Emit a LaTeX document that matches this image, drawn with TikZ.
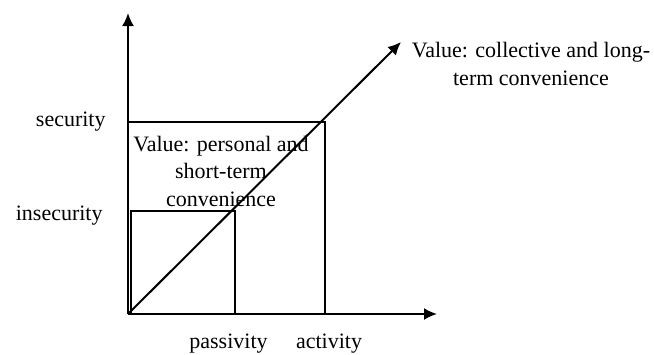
\documentclass[tikz,border=0pt]{standalone}
\usepackage{fontspec}
\setmainfont{Liberation Serif}
\usetikzlibrary{arrows.meta}
\begin{document}
\begin{tikzpicture}[x=0.5pt,y=-0.5pt,
  axis/.style={line width=1pt,-{Latex[length=6.5pt,width=6pt]}},
  box/.style={line width=1pt},
  lbl/.style={inner sep=0pt,font=\fontsize{11}{13.6}\selectfont},
  mlbl/.style={lbl,align=center}]
\useasboundingbox (0,0) rectangle (654,354);
% key points
\coordinate (O) at (128,314);
\coordinate (ytop) at (128,13);
\coordinate (xend) at (437,314);
\coordinate (dend) at (401,42);
\coordinate (bigTL) at (128,122);
\coordinate (bigTR) at (325,122);
\coordinate (bigBR) at (325,314);
\coordinate (smBL) at (131,314);
\coordinate (smTL) at (131,211);
\coordinate (smTR) at (235,211);
\coordinate (smBR) at (235,314);
% squares
\draw[box] (bigTL) -- (bigTR) -- (bigBR);
\draw[box] (smBL) -- (smTL) -- (smTR) -- (smBR);
% axes and diagonal
\draw[axis] (O) -- (ytop);
\draw[axis] (O) -- (xend);
\draw[axis] (O) -- (dend);
% labels
\node[lbl,anchor=base east] (sec) at (106,126) {security};
\node[lbl,anchor=base east] (insec) at (103,220) {insecurity};
\node[lbl,anchor=base] (pas) at (228.5,348) {passivity};
\node[lbl,anchor=base] (act) at (329,348) {activity};
\node[mlbl,anchor=base] (pers) at (221,206) {Value: personal and\\short-term\\convenience};
\node[mlbl,anchor=base] (coll) at (531,85) {Value: collective and long-\\term convenience};
\end{tikzpicture}
\end{document}
